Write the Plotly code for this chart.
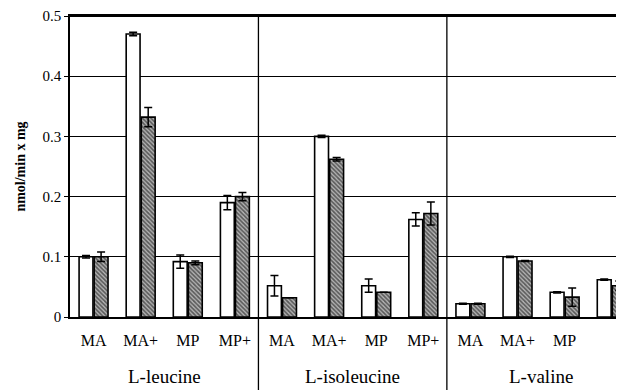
import plotly.graph_objects as go

categories = ["MA", "MA+", "MP", "MP+"] * 3
groups = ["L-leucine", "L-isoleucine", "L-valine"]
white_vals = [0.10, 0.47, 0.092, 0.19, 0.052, 0.30, 0.052, 0.162, 0.022, 0.10, 0.041, 0.062]
white_err = [0.002, 0.003, 0.011, 0.012, 0.017, 0.002, 0.011, 0.011, 0.001, 0.001, 0.001, 0.001]
hatch_vals = [0.10, 0.332, 0.09, 0.20, 0.032, 0.262, 0.041, 0.172, 0.022, 0.093, 0.033, 0.052]
hatch_err = [0.008, 0.016, 0.003, 0.007, 0.0, 0.003, 0.0, 0.019, 0.001, 0.001, 0.015, 0.008]
y_ticks = [0, 0.1, 0.2, 0.3, 0.4, 0.5]
y_ticktext = ["0", "0.1", "0.2", "0.3", "0.4", "0.5"]
y_title = "nmol/min x mg"

x = list(range(len(categories)))
xmin, xmax = -0.5, 11.26

serif = "Liberation Serif, serif"

fig = go.Figure()
fig.add_trace(go.Bar(
    x=x, y=white_vals,
    marker=dict(color="white", line=dict(color="black", width=1.6)),
    error_y=dict(type="data", array=white_err, visible=True, color="black", thickness=1.5, width=4),
    showlegend=False,
))
fig.add_trace(go.Bar(
    x=x, y=hatch_vals,
    marker=dict(color="white", line=dict(color="black", width=1.6),
                pattern=dict(shape="\\", fgcolor="black", bgcolor="#b4b4b4", size=3, solidity=0.55)),
    error_y=dict(type="data", array=hatch_err, visible=True, color="black", thickness=1.5, width=4),
    showlegend=False,
))

shapes = []
annotations = []
for gi, g in enumerate(groups):
    center = gi * 4 + 1.5
    annotations.append(dict(x=center, y=-0.199, xref="x", yref="paper", text=g, showarrow=False,
                            font=dict(family=serif, size=19, color="black"), yanchor="middle"))
    if gi > 0:
        xp = (gi * 4 - 0.5 - xmin) / (xmax - xmin)
        shapes.append(dict(type="line", xref="paper", yref="paper", x0=xp, x1=xp, y0=-0.35, y1=1,
                           line=dict(color="black", width=1.3)))
shapes.append(dict(type="line", xref="paper", yref="paper", x0=0, x1=1, y0=1, y1=1,
                   line=dict(color="black", width=2)))

fig.update_layout(
    width=616, height=382,
    margin=dict(l=62, r=0, t=8, b=73),
    paper_bgcolor="white", plot_bgcolor="white",
    barmode="group", bargap=0.36, bargroupgap=0.08,
    shapes=shapes, annotations=annotations,
    xaxis=dict(range=[xmin, xmax], tickvals=x, ticktext=categories, showgrid=False,
               showline=True, linecolor="black", linewidth=1.5, mirror=True,
               ticks="", ticklabelstandoff=8,
               tickfont=dict(family=serif, size=16, color="black"), zeroline=False),
    yaxis=dict(range=[0, 0.5], tickvals=y_ticks, ticktext=y_ticktext,
               showgrid=True, gridcolor="black", gridwidth=1, zeroline=False,
               showline=True, linecolor="black", linewidth=1.5, ticks="outside", ticklen=4,
               tickcolor="black", tickfont=dict(family=serif, size=15, color="black"),
               title=dict(text="<b>" + y_title + "</b>", font=dict(family=serif, size=14, color="black"),
                          standoff=14)),
)

fig.write_html("out.html")
